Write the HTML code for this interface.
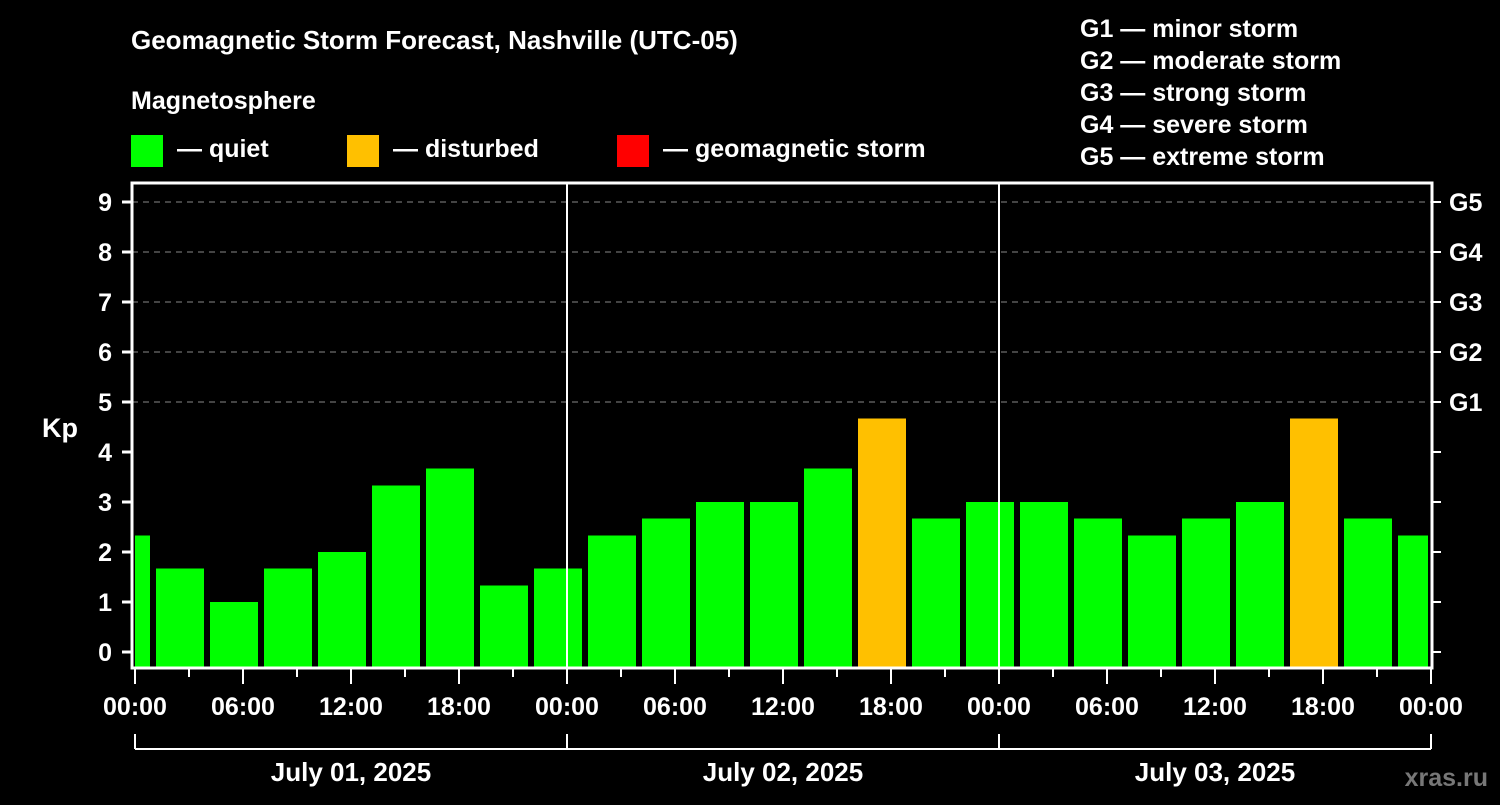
<!DOCTYPE html>
<html><head><meta charset="utf-8"><style>
body{margin:0;background:#000;width:1500px;height:800px;overflow:hidden}
svg text{font-family:"Liberation Sans",sans-serif;font-weight:bold;fill:#fff}
</style></head><body>
<svg id="c" width="1500" height="800">
<text x="131" y="49" font-size="26">Geomagnetic Storm Forecast, Nashville (UTC-05)</text>
<text x="131" y="109" font-size="25">Magnetosphere</text>
<g><rect x="131" y="135" width="32" height="32" fill="#00ff00"/><text x="177" y="157" font-size="25">— quiet</text></g>
<g><rect x="347" y="135" width="32" height="32" fill="#ffc000"/><text x="393" y="157" font-size="25">— disturbed</text></g>
<g><rect x="617" y="135" width="32" height="32" fill="#ff0000"/><text x="663" y="157" font-size="25">— geomagnetic storm</text></g>
<g font-size="25">
<text x="1080" y="37">G1 — minor storm</text><text x="1080" y="69">G2 — moderate storm</text><text x="1080" y="101">G3 — strong storm</text><text x="1080" y="133">G4 — severe storm</text><text x="1080" y="165">G5 — extreme storm</text></g>
<text x="42" y="437" font-size="27">Kp</text>
<text x="1488" y="786" font-size="25" text-anchor="end" style="fill:#777">xras.ru</text>
<g id="plot"></g>
</svg>
<script>
const kpValues=[2.33,1.67,1.0,1.67,2.0,3.33,3.67,1.33,1.67,2.33,2.67,3.0,3.0,3.67,4.67,2.67,3.0,3.0,2.67,2.33,2.67,3.0,4.67,2.67,2.33];
const yTicks=[0,1,2,3,4,5,6,7,8,9];
const gLabels=["G1","G2","G3","G4","G5"];
const xTickLabels=["00:00","06:00","12:00","18:00","00:00","06:00","12:00","18:00","00:00","06:00","12:00","18:00","00:00"];
const dayLabels=["July 01, 2025","July 02, 2025","July 03, 2025"];
const firstBarStartHour=-2;
const NS="http://www.w3.org/2000/svg";
const X0=135,PXH=18,L=132,R=1432,T=183,B=668;
const xs=h=>X0+h*PXH;
const ys=v=>652-v*50;
const g=document.getElementById('plot');
function mk(t,a,p){const e=document.createElementNS(NS,t);for(const k in a)e.setAttribute(k,a[k]);(p||g).appendChild(e);return e;}
// grid
yTicks.forEach(v=>{if(v>=5){const l=mk('line',{x1:L,x2:R,y1:ys(v),y2:ys(v),stroke:'#888','stroke-dasharray':'6,5','stroke-width':1});

}});
// bars
kpValues.forEach((v,i)=>{const h0=firstBarStartHour+i*3;let x1=xs(h0)+3,x2=xs(h0+3)-3;x1=Math.max(x1,X0);x2=Math.min(x2,xs(72)-3);
const r=mk('rect',{x:x1,y:ys(v),width:x2-x1,height:B-ys(v),fill:v>=5?'#ff0000':v>=4?'#ffc000':'#00ff00'});

});
// day separators
[24,48].forEach(h=>{const l=mk('line',{x1:xs(h),x2:xs(h),y1:T,y2:B,stroke:'#fff','stroke-width':2});

});
// frame
const f=mk('rect',{x:L,y:T,width:R-L,height:B-T,fill:'none',stroke:'#fff','stroke-width':3});


// y ticks
yTicks.forEach(v=>{mk('line',{x1:122,x2:L,y1:ys(v),y2:ys(v),stroke:'#fff','stroke-width':3});
mk('line',{x1:R,x2:1441,y1:ys(v),y2:ys(v),stroke:'#fff','stroke-width':2});
const t=mk('text',{x:112,y:ys(v)+9,'font-size':25,'text-anchor':'end'});t.textContent=v;

});
gLabels.forEach((s,i)=>{const t=mk('text',{x:1449,y:ys(5+i)+9,'font-size':25});t.textContent=s;

});
// x ticks
for(let h=0;h<=72;h+=3){const major=h%6===0;mk('line',{x1:xs(h),x2:xs(h),y1:B,y2:B+(major?16:9),stroke:'#fff','stroke-width':2});}
xTickLabels.forEach((s,i)=>{const t=mk('text',{x:xs(i*6),y:715,'font-size':25,'text-anchor':'middle'});t.textContent=s;

});
// day bracket
mk('line',{x1:xs(0),x2:xs(72),y1:749,y2:749,stroke:'#fff','stroke-width':2});
[0,24,48,72].forEach(h=>mk('line',{x1:xs(h),x2:xs(h),y1:734,y2:749,stroke:'#fff','stroke-width':2}));
dayLabels.forEach((s,i)=>{const t=mk('text',{x:xs(i*24+12),y:781,'font-size':26,'text-anchor':'middle'});t.textContent=s;

});
</script>
</body></html>
